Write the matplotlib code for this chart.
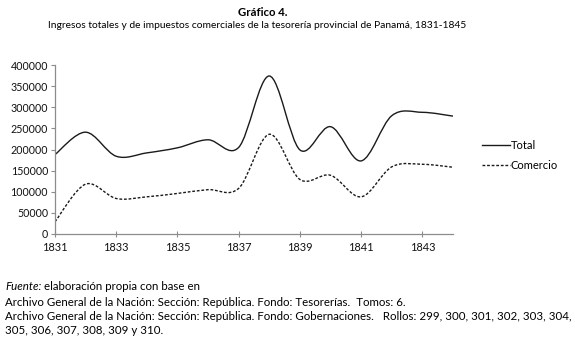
import matplotlib
matplotlib.use("Agg")
import matplotlib.pyplot as plt
from matplotlib.path import Path
from matplotlib.patches import PathPatch
from matplotlib.lines import Line2D

years = [1831, 1832, 1833, 1834, 1835, 1836, 1837, 1838, 1839, 1840, 1841, 1842, 1843, 1844]
total = [188000, 241000, 184000, 192000, 204000, 223000, 205000, 374000, 199000, 254000, 173000, 280000, 288000, 279000]
comercio = [29000, 118000, 84000, 88000, 96000, 105000, 108000, 236000, 129000, 139000, 88000, 159000, 165000, 158000]
yticks = [0, 50000, 100000, 150000, 200000, 250000, 300000, 350000, 400000]
xticks = [1831, 1833, 1835, 1837, 1839, 1841, 1843]

FONT = "Lato"
plt.rcParams['font.family'] = [FONT, 'DejaVu Sans']

W, H = 575, 342
fig = plt.figure(figsize=(W / 100, H / 100), dpi=100)
ax = fig.add_axes([55 / W, (H - 234) / H, 398 / W, 169 / H])


def smooth_path(xs, ys):
    n = len(xs)
    verts = [(xs[0], ys[0])]
    codes = [Path.MOVETO]
    for i in range(n - 1):
        x0, y0 = (xs[i - 1], ys[i - 1]) if i > 0 else (xs[i], ys[i])
        x1, y1 = xs[i], ys[i]
        x2, y2 = xs[i + 1], ys[i + 1]
        x3, y3 = (xs[i + 2], ys[i + 2]) if i + 2 < n else (xs[i + 1], ys[i + 1])
        c1 = (x1 + (x2 - x0) / 6, y1 + (y2 - y0) / 6)
        c2 = (x2 - (x3 - x1) / 6, y2 - (y3 - y1) / 6)
        verts += [c1, c2, (x2, y2)]
        codes += [Path.CURVE4] * 3
    return Path(verts, codes)


LC = '#1a1a1a'
ax.add_patch(PathPatch(smooth_path(years, total), fill=False, edgecolor=LC, lw=1.0))
ax.add_patch(PathPatch(smooth_path(years, comercio), fill=False, edgecolor=LC, lw=1.0,
                       linestyle=(0, (2, 1.3))))

ax.set_xlim(1831, 1844)
ax.set_ylim(0, 400000)
ax.set_xticks(xticks)
ax.set_xticklabels([str(x) for x in xticks])
ax.set_yticks(yticks)
ax.set_yticklabels([str(v) for v in yticks])
for s in ['top', 'right']:
    ax.spines[s].set_visible(False)
for s in ['left', 'bottom']:
    ax.spines[s].set_color('#8c8c8c')
    ax.spines[s].set_linewidth(0.9)
ax.tick_params(axis='y', direction='out', length=3, color='#8c8c8c', labelsize=7.7, pad=2, labelcolor='#111')
ax.tick_params(axis='x', direction='inout', length=5, color='#8c8c8c', labelsize=7.9, pad=3, labelcolor='#111')

handles = [Line2D([], [], color=LC, lw=1.0),
           Line2D([], [], color=LC, lw=1.0, linestyle=(0, (2, 1.3)))]
fig.legend(handles, ['Total', 'Comercio'], loc='upper left', bbox_to_anchor=(482 / W, 1 - 140 / H),
           frameon=False, fontsize=8.0, handlelength=2.5, handletextpad=0.1, labelspacing=0.8,
           borderaxespad=0, borderpad=0)

fig.text(263 / W, 1 - 13 / H, "Gráfico 4.", ha='center', va='center', fontsize=8.2, fontweight='bold')
fig.text(257 / W, 1 - 25 / H,
         "Ingresos totales y de impuestos comerciales de la tesorería provincial de Panamá, 1831-1845",
         ha='center', va='center', fontsize=7.4)

fx = 5 / W
FS = 8.3
t = fig.text(fx, 1 - 287 / H, "Fuente:", ha='left', va='center', fontsize=FS, style='italic')
fig.canvas.draw()
bb = t.get_window_extent()
fig.text((bb.x1 + 3) / W, 1 - 287 / H, "elaboración propia con base en", ha='left', va='center', fontsize=FS)
fig.text(fx, 1 - 302 / H,
         "Archivo General de la Nación: Sección: República. Fondo: Tesorerías.  Tomos: 6.",
         ha='left', va='center', fontsize=FS)
fig.text(fx, 1 - 317 / H,
         "Archivo General de la Nación: Sección: República. Fondo: Gobernaciones.   Rollos: 299, 300, 301, 302, 303, 304,",
         ha='left', va='center', fontsize=FS)
fig.text(fx, 1 - 331 / H, "305, 306, 307, 308, 309 y 310.", ha='left', va='center', fontsize=FS)

fig.savefig("out.png", dpi=100)
